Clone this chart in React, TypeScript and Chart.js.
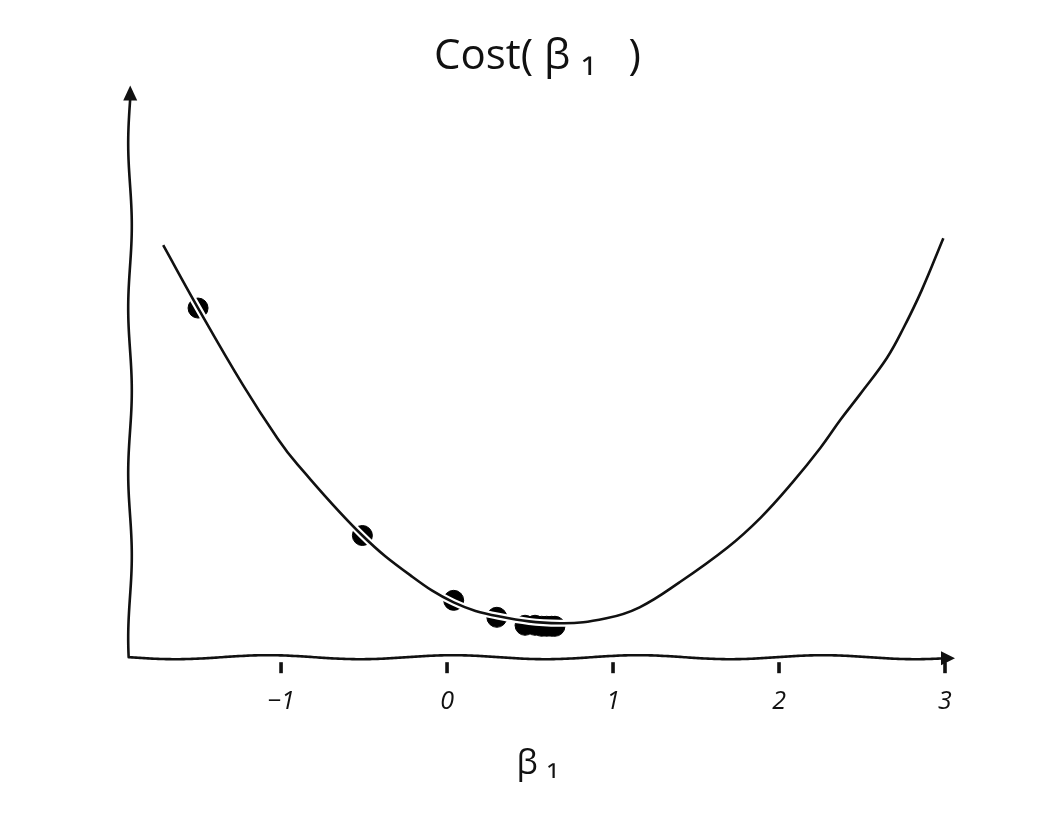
import React, { useEffect, useRef } from 'react';
import { Chart, registerables } from 'chart.js';

Chart.register(...registerables);

// Cost curve
const curveBeta = [-1.71, -1.5, -1.23, -1.02, -0.9, -0.51, -0.22, 0.04, 0.31, 0.68, 0.96, 1.16, 1.4, 1.69, 1.89, 2.08, 2.25, 2.37, 2.49, 2.65, 2.75, 2.86, 2.99];
const curveCost = [4.13, 3.5, 2.73, 2.19, 1.93, 1.22, 0.82, 0.55, 0.41, 0.34, 0.39, 0.5, 0.75, 1.1, 1.4, 1.75, 2.1, 2.38, 2.64, 3.0, 3.3, 3.68, 4.2];

// Gradient-descent steps (dots)
const stepBeta = [-1.5, -0.51, 0.04, 0.3, 0.47, 0.53, 0.57, 0.6, 0.63, 0.65];
const stepCost = [3.5, 1.22, 0.57, 0.4, 0.32, 0.32, 0.31, 0.31, 0.31, 0.31];

// Axis ticks and ranges
const xTickValues = [-1, 0, 1, 2, 3];
const xRange = [-1.91, 3];
const yRange = [0, 5.69];

const chartTitle = 'Cost( β ₁   )';
const xTitle = 'β ₁';

const FONT = '"Open Sans", "DejaVu Sans", sans-serif';

const xkcdAxes = {
  id: 'xkcdAxes',
  beforeDatasetsDraw(chart: any) {
    const { ctx, chartArea: a, scales } = chart;
    const xs = scales.x;
    ctx.save();
    ctx.strokeStyle = '#111';
    ctx.fillStyle = '#111';
    ctx.lineWidth = 2.6;
    ctx.lineCap = 'round';
    ctx.lineJoin = 'round';

    // wobbly x axis
    ctx.beginPath();
    for (let px = a.left; px <= a.right + 1; px += 2) {
      const rel = px - a.left;
      const y = a.bottom - 2 * Math.cos((2 * Math.PI * (rel - 138)) / 185);
      if (px === a.left) ctx.moveTo(px, y);
      else ctx.lineTo(px, y);
    }
    ctx.stroke();
    // x arrow head
    const ay = a.bottom - 2 * Math.cos((2 * Math.PI * (a.right - a.left - 138)) / 185);
    ctx.beginPath();
    ctx.moveTo(a.right - 4, ay - 7);
    ctx.lineTo(a.right + 10, ay);
    ctx.lineTo(a.right - 4, ay + 7);
    ctx.closePath();
    ctx.fill();

    // wobbly y axis
    const yTop = a.top + 9;
    ctx.beginPath();
    for (let py = a.bottom; py >= yTop - 1; py -= 2) {
      const rel = py - a.top;
      const x = a.left + 1.8 * Math.cos((2 * Math.PI * (rel - 136)) / 165);
      if (py === a.bottom) ctx.moveTo(x, py);
      else ctx.lineTo(x, py);
    }
    ctx.stroke();
    const ax = a.left + 1.8 * Math.cos((2 * Math.PI * (9 - 136)) / 165);
    ctx.beginPath();
    ctx.moveTo(ax - 7, yTop + 2);
    ctx.lineTo(ax, yTop - 13);
    ctx.lineTo(ax + 7, yTop + 2);
    ctx.closePath();
    ctx.fill();

    // tick marks
    for (const v of xTickValues) {
      const px = xs.getPixelForValue(v);
      ctx.fillRect(px - 1.8, a.bottom + 5, 3.6, 11);
    }
    ctx.restore();
  },
};

export default function App() {
  const canvasRef = useRef<HTMLCanvasElement | null>(null);

  useEffect(() => {
    if (!canvasRef.current) return;
    const curve = curveBeta.map((b, i) => ({ x: b, y: curveCost[i] }));
    const steps = stepBeta.map((b, i) => ({ x: b, y: stepCost[i] }));

    const chart = new Chart(canvasRef.current, {
      type: 'line',
      data: {
        datasets: [
          {
            label: 'curve',
            data: curve,
            borderColor: '#111',
            borderWidth: 2.6,
            pointRadius: 0,
            tension: 0.4,
            fill: false,
            order: 1,
          },
          {
            label: 'halo',
            data: curve,
            borderColor: '#ffffff',
            borderWidth: 7,
            pointRadius: 0,
            tension: 0.4,
            fill: false,
            order: 2,
          },
          {
            type: 'scatter',
            label: 'steps',
            data: steps,
            showLine: false,
            pointRadius: 10,
            pointBackgroundColor: '#000',
            pointBorderColor: '#000',
            pointBorderWidth: 1,
            order: 3,
          } as any,
        ],
      },
      options: {
        animation: false,
        responsive: true,
        maintainAspectRatio: false,
        layout: { padding: { left: 122, right: 97, top: 0, bottom: 6 } },
        plugins: {
          legend: { display: false },
          tooltip: { enabled: false },
          title: {
            display: true,
            text: chartTitle,
            color: '#111',
            font: { family: FONT, size: 42, style: 'normal', weight: 'normal' },
            padding: { top: 23.6, bottom: 7.6 },
          },
        },
        scales: {
          x: {
            type: 'linear',
            min: xRange[0],
            max: xRange[1],
            border: { display: false },
            grid: {
              display: true,
              drawOnChartArea: false,
              drawTicks: true,
              tickLength: 12,
              color: 'rgba(0,0,0,0)',
            },
            afterBuildTicks: (scale: any) => {
              scale.ticks = xTickValues.map((v) => ({ value: v }));
            },
            ticks: {
              padding: 18,
              color: '#111',
              font: { family: FONT, size: 25, style: 'italic' },
              callback: (v: any) => (Number(v) < 0 ? '−' + Math.abs(Number(v)) : String(v)),
            },
            title: {
              display: true,
              text: xTitle,
              color: '#111',
              font: { family: FONT, size: 34, style: 'normal' },
              padding: { top: 9, bottom: 17 },
            },
          },
          y: {
            type: 'linear',
            display: false,
            min: yRange[0],
            max: yRange[1],
          },
        },
      },
      plugins: [xkcdAxes],
    });
    return () => chart.destroy();
  }, []);

  return (
    <div style={{ width: '100%', height: '800px', position: 'relative' }}>
      <canvas ref={canvasRef} />
    </div>
  );
}
